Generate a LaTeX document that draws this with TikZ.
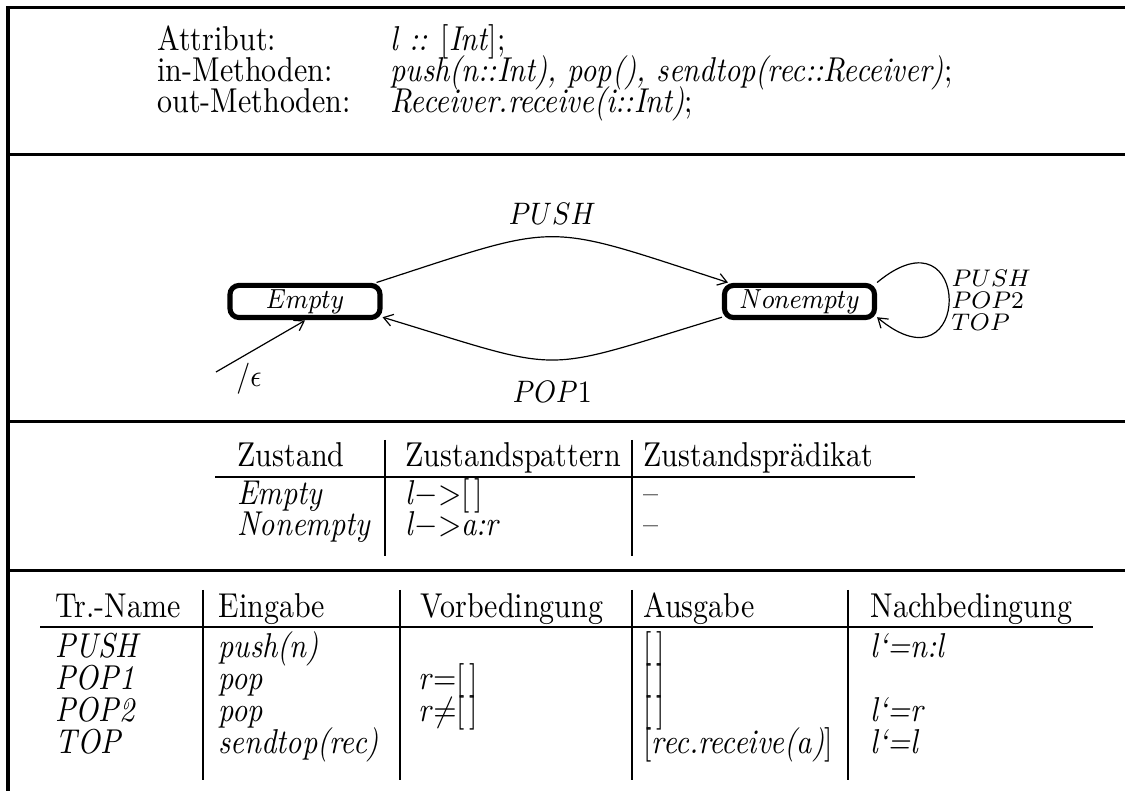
\documentclass[tikz,border=0pt]{standalone}
\usepackage{tikz}
\usetikzlibrary{arrows.meta}

\tikzset{
  frame/.style={line width=1pt},
  rule/.style={line width=0.9pt},
  txt/.style={anchor=base west, inner sep=0pt},
  state/.style={draw, line width=1.7pt, rounded corners=3pt, inner sep=0pt,
    minimum width=50pt, minimum height=9.3pt, font=\footnotesize},
  trans/.style={line width=0.4pt, -{Straight Barb[length=3pt,width=4pt]}},
  looplbl/.style={anchor=west, inner sep=0pt, yscale=0.87, font=\footnotesize},
}

\begin{document}
\begin{tikzpicture}[x=0.3333pt,y=-0.3333pt, every node/.append style={yscale=1.15}]
	\useasboundingbox (0,0) rectangle (1125,791);
	% frame and section dividers
	\draw[frame] (8,791) -- (8,8) -- (1125,8);
	\foreach \y in {155,422,571}
		\draw[frame] (8,\y) -- (1125,\y);
	% signature
	\node[txt] (attr)  at (157,51)  {Attribut:};
	\node[txt] (inm)   at (157,82)  {in-Methoden:};
	\node[txt] (outm)  at (157,113) {out-Methoden:};
	\node[txt] (attrv) at (390,51)  {\textit{l ::} [\textit{Int}];};
	\node[txt] (inmv)  at (390,82)  {\textit{push(n::Int), pop(), sendtop(rec::Receiver)};};
	\node[txt] (outmv) at (390,113) {\textit{Receiver.receive(i::Int)};};
	% automaton
	\node[state] (empty)    at (305,301.5)   {$Empty$};
	\node[state] (nonempty) at (799.5,301.5) {$Nonempty$};
	\coordinate (init) at (216,372);
	\draw[trans] (init) -- (empty.south);
	\node[inner sep=0pt, font=\small] (eps) at (249,379) {$/\epsilon$};
	\draw[trans] (empty.13) .. controls +(188,-61) and +(-188,-61) ..
		node[above, font=\small] (push) {$PUSH$} (nonempty.167);
	\draw[trans] (nonempty.-170) .. controls +(-188,57) and +(188,57) ..
		node[below, font=\small, yshift=-2.5pt] (pop1) {$POP1$} (empty.-10);
	\draw[trans] (nonempty.12) .. controls +(96,-80) and +(96,80) .. (nonempty.-10);
	\node[looplbl] (lpush) at (951,278) {$PUSH$};
	\node[looplbl] (lpop2) at (951,300) {$POP2$};
	\node[looplbl] (ltop)  at (951,322) {$TOP$};
	% state table
	\foreach \x/\t [count=\i] in {237/Zustand, 405/Zustandspattern, 643/Zustandsprädikat}
		\node[txt] (zh\i) at (\x,467) {\t};
	\draw[rule] (215,477) -- (915,477);
	\foreach \x in {385,632}
		\draw[rule] (\x,440) -- (\x,556);
	\node[txt] (ze1) at (237,505) {\textit{Empty}};
	\node[txt] (zp1) at (405,505) {\textit{l}$\mathord{-}\mathord{>}$[\,]};
	\node[txt] (zd1) at (643,505) {--};
	\node[txt] (ze2) at (237,536) {\textit{Nonempty}};
	\node[txt] (zp2) at (405,536) {\textit{l}$\mathord{-}\mathord{>}$\textit{a:r}};
	\node[txt] (zd2) at (643,536) {--};
	% transition table
	\foreach \x/\t [count=\i] in {55/Tr.-Name, 218/Eingabe, 420/Vorbedingung,
			643/Ausgabe, 870/Nachbedingung}
		\node[txt] (th\i) at (\x,618) {\t};
	\draw[rule] (40,627) -- (1093,627);
	\foreach \x in {203,400,632,848}
		\draw[rule] (\x,590) -- (\x,780);
	\foreach \y/\nm/\inp/\outp [count=\i] in {
			658/PUSH/push(n)/[\,],
			690/POP1/pop/[\,],
			722/POP2/pop/[\,],
			754/TOP/sendtop(rec)/[\textit{rec.receive(a)}]}
	{
		\node[txt] (tn\i) at (55,\y)  {\textit{\nm}};
		\node[txt] (ti\i) at (218,\y) {\textit{\inp}};
		\node[txt] (to\i) at (643,\y) {\outp};
	}
	\node[txt] (tv2) at (418,690) {\textit{r}=[\,]};
	\node[txt] (tv3) at (418,722) {\textit{r}$\neq$[\,]};
	\node[txt] (tp1) at (870,658) {\textit{l`=n:l}};
	\node[txt] (tp3) at (870,722) {\textit{l`=r}};
	\node[txt] (tp4) at (870,754) {\textit{l`=l}};
\end{tikzpicture}
\end{document}
